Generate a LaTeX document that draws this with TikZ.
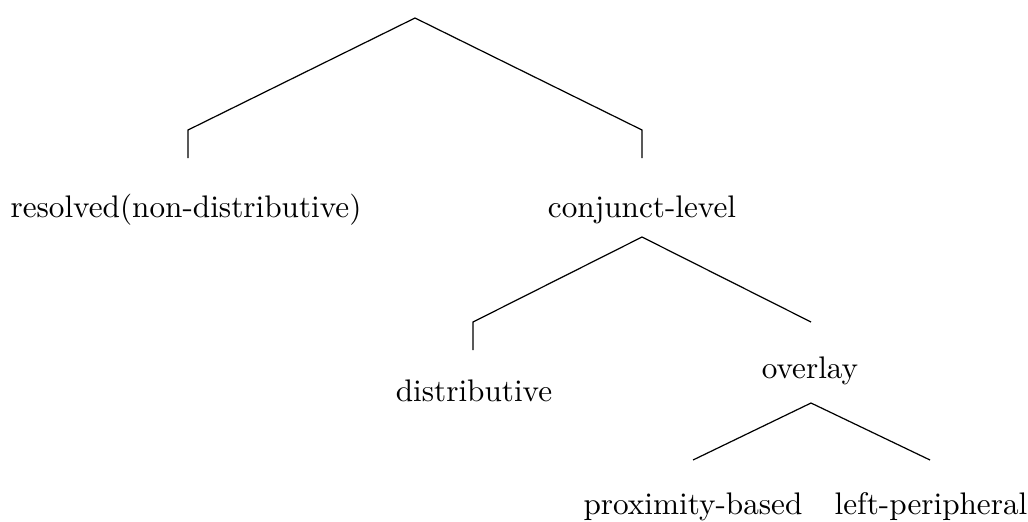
\documentclass[tikz,border=0pt]{standalone}
\usepackage{tikz}
\usetikzlibrary{positioning, calc}

\begin{document}
\begin{tikzpicture}[
        x=0.33pt, y=-0.33pt,
        leaf/.style={inner sep=0pt, anchor=base, font=\fontsize{10.3pt}{12.5pt}\selectfont},
        branch/.style={draw=black, line width=0.4pt}
    ]
        \useasboundingbox (0,0) rectangle (1028,521);

        % Nodes
        \coordinate (top) at (415,18);
        \node (resolved) [leaf] at (186,217) {resolved(non-distributive)};
        \node (conj) [leaf] at (642,217) {conjunct-level};
        \node (distr) [leaf] at (474,401) {distributive};
        \node (overlay) [leaf] at (810,378) {overlay};
        \node (prox) [leaf] at (693,514) {proximity-based};
        \node (leftp) [leaf] at (931,514) {left-peripheral};

        % Joints
        \coordinate (resolvedk) at (188,130);
        \coordinate (resolvede) at (188,158);
        \coordinate (conjk) at (642,130);
        \coordinate (conje) at (642,158);
        \coordinate (conjt) at (642,237);
        \coordinate (distrk) at (473,322);
        \coordinate (distre) at (473,350);
        \coordinate (overlaye) at (811,322);
        \coordinate (overlayt) at (811,403);
        \coordinate (proxe) at (693,460);
        \coordinate (leftpe) at (930,460);

        % Wires
        \draw[branch] (top) -- (resolvedk) -- (resolvede);
        \draw[branch] (top) -- (conjk) -- (conje);
        \draw[branch] (conjt) -- (distrk) -- (distre);
        \draw[branch] (conjt) -- (overlaye);
        \draw[branch] (overlayt) -- (proxe);
        \draw[branch] (overlayt) -- (leftpe);
    \end{tikzpicture}
\end{document}
